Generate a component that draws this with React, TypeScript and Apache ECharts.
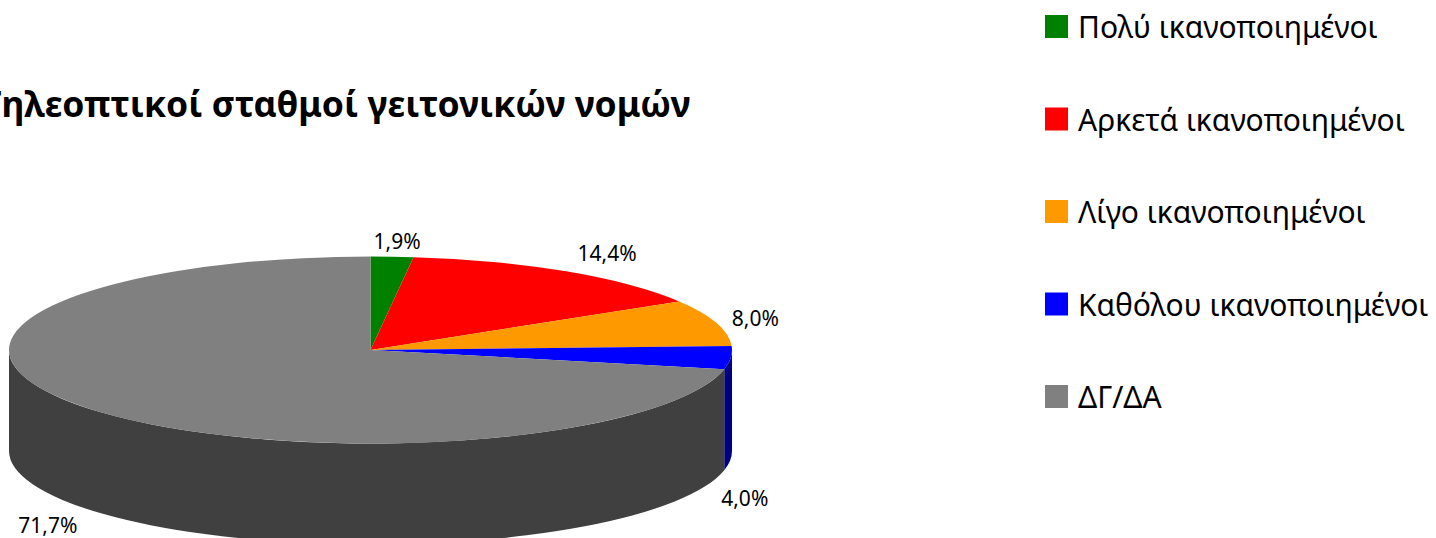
import React, { useEffect, useRef } from "react";
import * as echarts from "echarts";

const titleText = "Τηλεοπτικοί σταθμοί γειτονικών νομών";
const categories = [
  "Πολύ ικανοποιημένοι",
  "Αρκετά ικανοποιημένοι",
  "Λίγο ικανοποιημένοι",
  "Καθόλου ικανοποιημένοι",
  "ΔΓ/ΔΑ",
];
const values = [1.9, 14.4, 8.0, 4.0, 71.7];
const topColors = ["#008000", "#ff0000", "#ff9900", "#0000ff", "#808080"];
const sideColors = ["#004000", "#800000", "#804d00", "#000080", "#404040"];
const labelOffsets = [
  [5, -16],
  [41, -18],
  [39, -5],
  [14, 39],
  [-42, 15],
];

const CX = 370.5;
const CY = 350;
const RX = 361.5;
const RY = 93.5;
const DEPTH = 101;
const FONT = "Noto Sans";

const rim = (t: number, dy = 0): [number, number] => [
  CX + RX * Math.sin(t),
  CY - RY * Math.cos(t) + dy,
];
const toRad = (p: number) => (p / 100) * Math.PI * 2;

function topPath(a: number, b: number) {
  const [x0, y0] = rim(a);
  const [x1, y1] = rim(b);
  const large = b - a > Math.PI ? 1 : 0;
  return `M${CX} ${CY}L${x0} ${y0}A${RX} ${RY} 0 ${large} 1 ${x1} ${y1}Z`;
}

function sidePath(a: number, b: number) {
  const lo = Math.max(a, Math.PI / 2);
  const hi = Math.min(b, (Math.PI * 3) / 2);
  if (hi <= lo) return null;
  const [x0, y0] = rim(lo);
  const [x1, y1] = rim(hi);
  const [x2, y2] = rim(hi, DEPTH);
  const [x3, y3] = rim(lo, DEPTH);
  return `M${x0} ${y0}A${RX} ${RY} 0 0 1 ${x1} ${y1}L${x2} ${y2}A${RX} ${RY} 0 0 0 ${x3} ${y3}Z`;
}

export default function App() {
  const ref = useRef<HTMLDivElement>(null);
  useEffect(() => {
    document.body.style.margin = "0";
    const chart = echarts.init(ref.current!, null, { renderer: "svg" });
    let acc = 0;
    const series = categories.map((name, i) => {
      const start = acc;
      acc += values[i];
      return {
        type: "custom",
        name,
        coordinateSystem: "none",
        itemStyle: { color: topColors[i] },
        data: [[start, start + values[i], values[i]]],
        renderItem: (_p: any, api: any) => {
          const a = toRad(api.value(0));
          const b = toRad(api.value(1));
          const mid = (a + b) / 2;
          const side = sidePath(a, b);
          const visibleSide = mid > Math.PI / 2 && mid < (Math.PI * 3) / 2;
          const [ax, ay] = rim(mid, visibleSide ? DEPTH : 0);
          const children: any[] = [];
          if (side) {
            children.push({
              type: "path",
              shape: { pathData: side },
              style: { fill: sideColors[i] },
            });
          }
          children.push({
            type: "path",
            shape: { pathData: topPath(a, b) },
            style: { fill: topColors[i] },
          });
          children.push({
            type: "text",
            style: {
              x: ax + labelOffsets[i][0],
              y: ay + labelOffsets[i][1],
              text: api.value(2).toFixed(1).replace(".", ",") + "%",
              fill: "#000",
              font: `21px "${FONT}"`,
              align: "center",
              verticalAlign: "middle",
            },
          });
          return { type: "group", children };
        },
      };
    });
    chart.setOption({
      animation: false,
      backgroundColor: "#fff",
      title: {
        text: titleText,
        left: -24,
        top: 80,
        textStyle: {
          fontFamily: FONT,
          fontWeight: "bold",
          fontSize: 35.5,
          color: "#000",
        },
      },
      legend: {
        data: categories,
        orient: "vertical",
        left: 1045,
        top: 11.5,
        icon: "rect",
        itemWidth: 23,
        itemHeight: 23,
        itemGap: 62.5,
        padding: 0,
        selectedMode: false,
        textStyle: {
          fontFamily: FONT,
          fontSize: 30,
          color: "#000",
          padding: [0, 0, 0, 5],
        },
      },
      series,
    });
    return () => chart.dispose();
  }, []);
  return <div ref={ref} style={{ width: 1436, height: 538 }} />;
}
